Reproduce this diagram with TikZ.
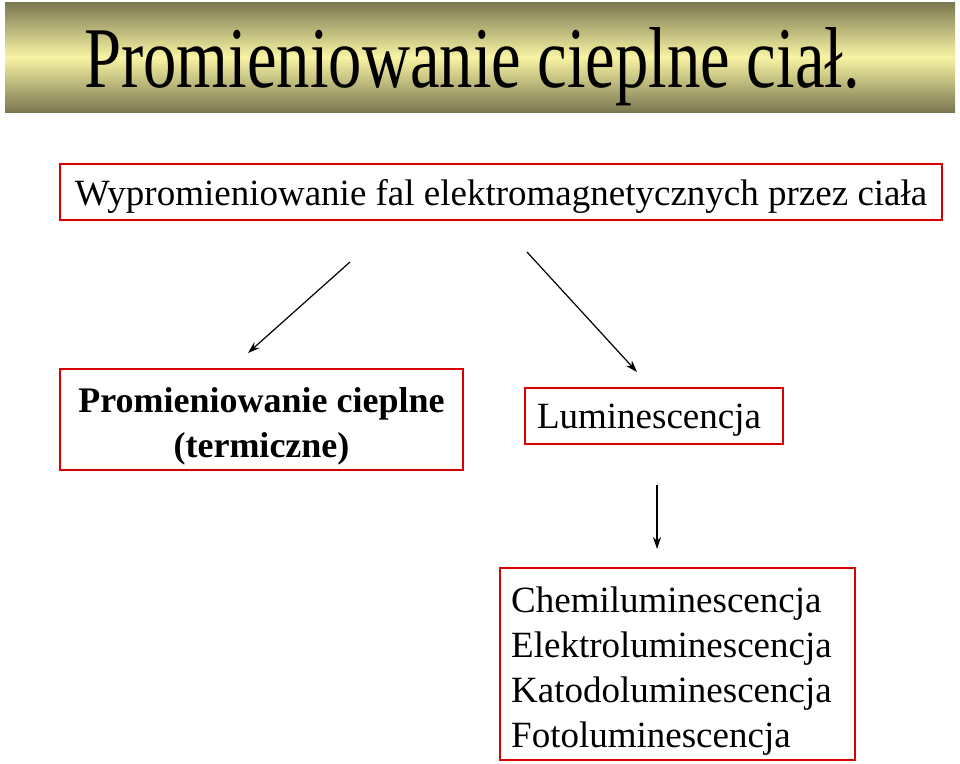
\documentclass[tikz,border=0pt]{standalone}
\usepackage{fontspec}
\setmainfont{Liberation Serif}
\usetikzlibrary{arrows.meta}
\definecolor{barEdge}{HTML}{7A7750}
\definecolor{barMid}{HTML}{F8F4A4}
\begin{document}
\begin{tikzpicture}[x=1pt,y=-1pt,
  box/.style={draw=red!85!black,line width=1.5pt,inner sep=0pt},
  arr/.style={-{Stealth[length=12pt,width=8pt]},line width=1.2pt}]
\useasboundingbox (0,0) rectangle (960,763);
\shade[top color=barEdge,bottom color=barEdge,middle color=barMid] (5,2) rectangle (955,112);
\node[anchor=base,inner sep=0pt] (title) at (472,87) {\resizebox{775pt}{60pt}{Promieniowanie cieplne ciał.}};
\node[box,minimum width=882pt,minimum height=56pt] (top) at (501,192) {};
\node[font=\fontsize{37}{40}\selectfont,anchor=base,inner sep=0pt] (toptext) at (501,205) {Wypromieniowanie fal elektromagnetycznych przez ciała};
\node[box,minimum width=403pt,minimum height=101pt] (left) at (261.5,419.5) {};
\node[font=\fontsize{36}{45}\selectfont\bfseries,align=center,anchor=base,inner sep=0pt] (lefttext) at (261.5,457) {Promieniowanie cieplne\\(termiczne)};
\node[box,minimum width=258pt,minimum height=56pt] (lum) at (654,416) {};
\node[font=\fontsize{37}{40}\selectfont,anchor=base,inner sep=0pt] (lumtext) at (649,428) {Luminescencja};
\node[box,minimum width=355pt,minimum height=192pt] (bot) at (677.5,664) {};
\node[font=\fontsize{37}{45}\selectfont,align=left,anchor=base west,inner sep=0pt] (bottext) at (511,747) {Chemiluminescencja\\Elektroluminescencja\\Katodoluminescencja\\Fotoluminescencja};
\coordinate (a1) at (350,262); \coordinate (b1) at (248,353);
\coordinate (a2) at (527,252); \coordinate (b2) at (637,372);
\coordinate (a3) at (657,485); \coordinate (b3) at (657,549);
\draw[arr] (a1) -- (b1);
\draw[arr] (a2) -- (b2);
\draw[arr] (a3) -- (b3);
\end{tikzpicture}
\end{document}
